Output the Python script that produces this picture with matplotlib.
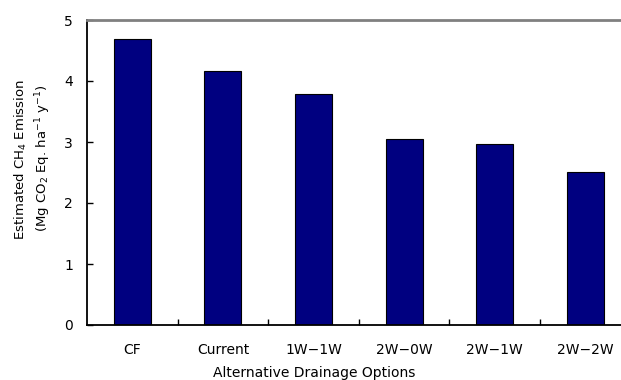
import numpy as np
import matplotlib.pyplot as plt

plt.rcParams['font.family'] = ['DejaVu Sans']
plt.rcParams['mathtext.fontset'] = 'dejavusans'

options = ["CF", "Current", "1W\u22121W", "2W\u22120W", "2W\u22121W", "2W\u22122W"]
emission = [4.69, 4.16, 3.78, 3.05, 2.96, 2.51]

fig = plt.figure(figsize=(6.21, 3.80), dpi=100)
# axes run slightly past the right edge, as in the cropped original
ax = fig.add_axes([87 / 621, 55 / 380, 543.6 / 621, 305 / 380])

x = np.arange(len(options)) + 0.5
ax.bar(x, emission, width=0.41, color="#000080", edgecolor="black", linewidth=0.8)

ax.set_xlim(0, len(options))
ax.set_ylim(0, 5)
ax.set_yticks(range(6))
ax.set_xticks(np.arange(1, len(options)))
ax.set_xticklabels([])
ax.tick_params(axis="x", direction="in", length=4, width=1)
ax.tick_params(axis="y", direction="in", length=4, width=1, labelsize=10, pad=10)

# category labels sit between the boundary ticks
for xi, lab in zip(x, options):
    ax.text(xi, -0.41, lab, ha="center", va="center", fontsize=10)

ax.spines["left"].set_linewidth(1.3)
ax.spines["bottom"].set_linewidth(1.3)
ax.spines["top"].set_color("#808080")
ax.spines["top"].set_linewidth(2)
ax.spines["right"].set_visible(False)

fig.text(314 / 621, 1 - 373 / 380, "Alternative Drainage Options", ha="center",
         va="center", fontsize=10)
fig.text(21 / 621, 1 - 160 / 380, "Estimated CH$_4$ Emission", rotation=90,
         ha="center", va="center", fontsize=9.5)
fig.text(43 / 621, 1 - 158 / 380, "(Mg CO$_2$ Eq. ha$^{-1}$ y$^{-1}$)", rotation=90,
         ha="center", va="center", fontsize=9.5)

fig.savefig("out.png", dpi=100)
